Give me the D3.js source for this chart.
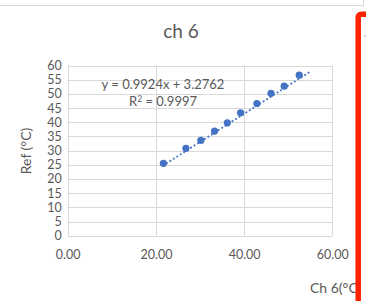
<!DOCTYPE html>
<html>
<head>
<meta charset="utf-8">
<script src="https://cdn.jsdelivr.net/npm/d3@7"></script>
<style>
html,body{margin:0;padding:0;background:#fff;}
svg{display:block;}
text{font-family:Lato,"Open Sans",sans-serif;fill:#595959;}
</style>
</head>
<body>
<svg id="c" width="366" height="301"></svg>
<script>
// Data
const chValues = [21.7, 26.8, 30.2, 33.3, 36.2, 39.2, 42.9, 46.1, 49.1, 52.5];
const refValues = [25.5, 30.8, 33.6, 36.9, 39.8, 43.3, 46.6, 50.2, 52.7, 56.6];
const xTicks = [0, 20, 40, 60];
const yTicks = [0, 5, 10, 15, 20, 25, 30, 35, 40, 45, 50, 55, 60];
const trendSlope = 0.9924;
const trendIntercept = 3.2762;
const trendRange = [21.7, 54.9];
const equationText = "y = 0.9924x + 3.2762";
const r2Value = "0.9997";
const titleText = "ch 6";
const xTitle = "Ch 6(°C)";
const yTitle = "Ref (°C)";

const svg = d3.select("#c");
const pLeft = 67.7, pRight = 332.3, pTop = 65.5, pBottom = 235.7;
const x = d3.scaleLinear().domain([0, 60]).range([pLeft, pRight]);
const y = d3.scaleLinear().domain([0, 60]).range([pBottom, pTop]);

// top window chrome line
svg.append("line").attr("x1",0).attr("x2",363.5).attr("y1",5.5).attr("y2",5.5).attr("stroke","#d6d6d6");
svg.append("line").attr("x1",363.5).attr("x2",363.5).attr("y1",0).attr("y2",5.5).attr("stroke","#d6d6d6");

// title
svg.append("text").attr("x",181).attr("y",38).attr("text-anchor","middle")
  .style("font-size","19px").text(titleText);

// gridlines
const g = svg.append("g");
g.selectAll(".hy").data(yTicks).join("line")
  .attr("x1",pLeft).attr("x2",pRight)
  .attr("y1",d=>Math.round(y(d))+0.5).attr("y2",d=>Math.round(y(d))+0.5)
  .attr("stroke","#d9d9d9").attr("stroke-width",1);
g.selectAll(".vx").data(xTicks).join("line")
  .attr("y1",pTop).attr("y2",pBottom)
  .attr("x1",d=>Math.round(x(d))+0.5).attr("x2",d=>Math.round(x(d))+0.5)
  .attr("stroke","#d9d9d9").attr("stroke-width",1);

// axes labels via d3 axes
const yAxis = d3.axisLeft(y).tickValues(yTicks).tickSize(0).tickPadding(6);
const ya = svg.append("g").attr("transform",`translate(${pLeft},0)`).call(yAxis);
ya.select(".domain").remove();
ya.selectAll("text").style("font-size","12.5px").style("font-family","Lato,'Open Sans',sans-serif").attr("fill","#595959");

const xAxis = d3.axisBottom(x).tickValues(xTicks).tickSize(0).tickPadding(14).tickFormat(d3.format(".2f"));
const xa = svg.append("g").attr("transform",`translate(0,${pBottom})`).call(xAxis);
xa.select(".domain").remove();
xa.selectAll("text").style("font-size","12.5px").style("font-family","Lato,'Open Sans',sans-serif").attr("fill","#595959");

// axis titles
svg.append("text").attr("transform","translate(31,151) rotate(-90)").attr("text-anchor","middle")
  .style("font-size","14px").text(yTitle);
svg.append("text").attr("x",310).attr("y",293).style("font-size","14px").text(xTitle);

// trendline
const trendData = trendRange.map(v => [v, trendSlope*v + trendIntercept]);
svg.append("path").datum(trendData)
  .attr("d", d3.line().x(d=>x(d[0])).y(d=>y(d[1])))
  .attr("fill","none").attr("stroke","#4472C4").attr("stroke-width",2)
  .attr("stroke-dasharray","0.1,4").attr("stroke-linecap","round");

// points
svg.selectAll(".pt").data(chValues.map((v,i)=>[v, refValues[i]])).join("circle")
  .attr("cx",d=>x(d[0])).attr("cy",d=>y(d[1])).attr("r",3.6).attr("fill","#4472C4");

// equation
svg.append("text").attr("x",163).attr("y",89).attr("text-anchor","middle")
  .style("font-size","13px").text(equationText);
const r2 = svg.append("text").attr("x",163).attr("y",106).attr("text-anchor","middle").style("font-size","13px");
r2.append("tspan").text("R");
r2.append("tspan").attr("dy",-4).style("font-size","8.5px").text("2");
r2.append("tspan").attr("dy",4).text(" = " + r2Value);

// red frame on right
svg.append("rect").attr("x",358.2).attr("y",14.2).attr("width",30).attr("height",300)
  .attr("rx",3).attr("fill","#fff").attr("stroke","#FF2200").attr("stroke-width",5.5);
svg.append("circle").attr("cx",365).attr("cy",36).attr("r",0.8).attr("fill","#999");
</script>
</body>
</html>
